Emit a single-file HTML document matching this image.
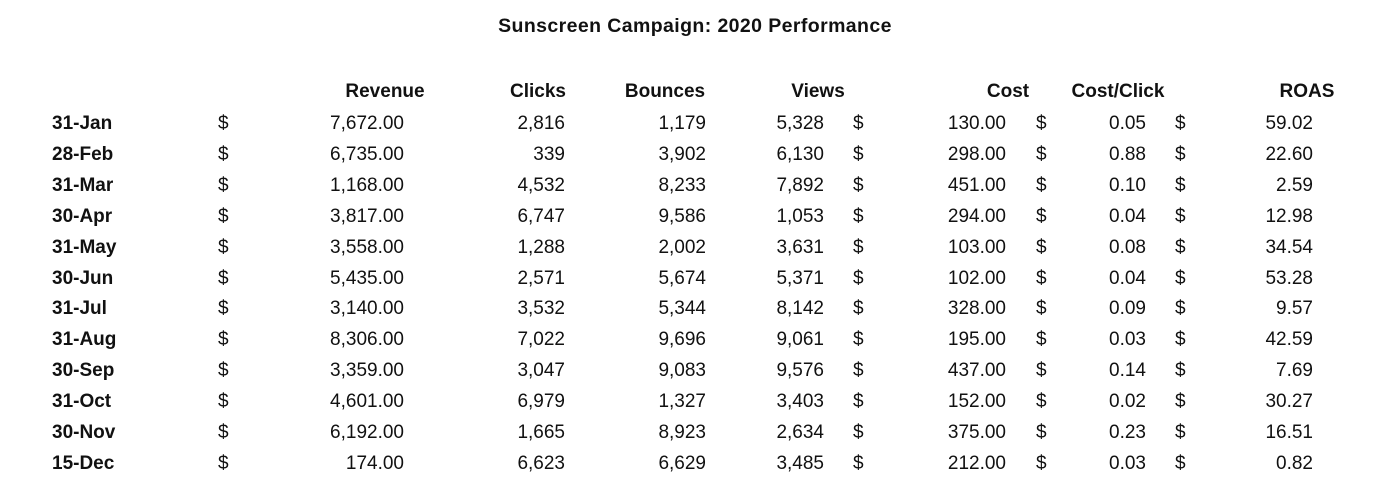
<!DOCTYPE html>
<html><head><meta charset="utf-8"><style>
html,body{margin:0;padding:0;background:#fff;}
body{width:1400px;height:498px;position:relative;overflow:hidden;font-family:"Liberation Sans","DejaVu Sans",sans-serif;color:#111;}
.t{position:absolute;white-space:nowrap;font-size:19px;line-height:22px;}
.b{font-weight:bold;}
.r{text-align:right;}
.c{text-align:center;}
</style></head><body>
<div class="t b c" style="left:395px;width:600px;top:15px;font-size:19.5px;letter-spacing:0.4px;">Sunscreen Campaign: 2020 Performance</div>
<div id="tbl"></div>
<script>
const dates=["31-Jan","28-Feb","31-Mar","30-Apr","31-May","30-Jun","31-Jul","31-Aug","30-Sep","31-Oct","30-Nov","15-Dec"];
const revenue=["7,672.00","6,735.00","1,168.00","3,817.00","3,558.00","5,435.00","3,140.00","8,306.00","3,359.00","4,601.00","6,192.00","174.00"];
const clicks=["2,816","339","4,532","6,747","1,288","2,571","3,532","7,022","3,047","6,979","1,665","6,623"];
const bounces=["1,179","3,902","8,233","9,586","2,002","5,674","5,344","9,696","9,083","1,327","8,923","6,629"];
const views=["5,328","6,130","7,892","1,053","3,631","5,371","8,142","9,061","9,576","3,403","2,634","3,485"];
const cost=["130.00","298.00","451.00","294.00","103.00","102.00","328.00","195.00","437.00","152.00","375.00","212.00"];
const cpc=["0.05","0.88","0.10","0.04","0.08","0.04","0.09","0.03","0.14","0.02","0.23","0.03"];
const roas=["59.02","22.60","2.59","12.98","34.54","53.28","9.57","42.59","7.69","30.27","16.51","0.82"];
const headers=["Revenue","Clicks","Bounces","Views","Cost","Cost/Click","ROAS"];
const headerCenters=[385,538,665,818,1008,1118,1307];
const tbl=document.getElementById('tbl');
function add(text,cls,left,top,width,name){
  const d=document.createElement('div');
  d.className='t '+cls;
  d.textContent=text;
  d.style.left=left+'px';d.style.top=top+'px';
  if(width)d.style.width=width+'px';
  
  
  tbl.appendChild(d);
}
headers.forEach((h,i)=>add(h,'b c',headerCenters[i]-80,81,160,'column-header'));
const rowTop=i=>113+i*30.9;
dates.forEach((d,i)=>{
  const y=rowTop(i);
  add(d,'b',52,y,0,'row-date');
  add('$','',218,y,0,'currency-sign');
  add(revenue[i],'r',254,y,150,'revenue-cell');
  add(clicks[i],'r',465,y,100,'clicks-cell');
  add(bounces[i],'r',606,y,100,'bounces-cell');
  add(views[i],'r',724,y,100,'views-cell');
  add('$','',853,y,0,'currency-sign');
  add(cost[i],'r',886,y,120,'cost-cell');
  add('$','',1036,y,0,'currency-sign');
  add(cpc[i],'r',1046,y,100,'cost-per-click-cell');
  add('$','',1175,y,0,'currency-sign');
  add(roas[i],'r',1213,y,100,'roas-cell');
});
</script>
</body></html>
